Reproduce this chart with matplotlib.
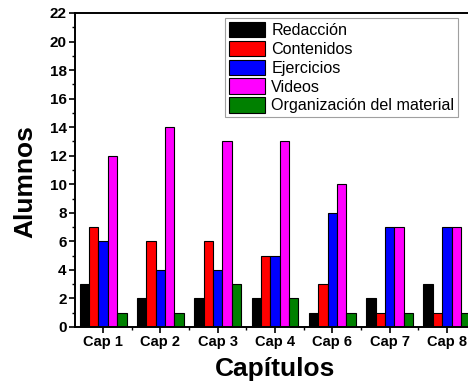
import numpy as np
import matplotlib.pyplot as plt
from matplotlib.ticker import MultipleLocator

capitulos = ["Cap 1", "Cap 2", "Cap 3", "Cap 4", "Cap 6", "Cap 7", "Cap 8"]
redaccion = [3, 2, 2, 2, 1, 2, 3]
contenidos = [7, 6, 6, 5, 3, 1, 1]
ejercicios = [6, 4, 4, 5, 8, 7, 7]
videos = [12, 14, 13, 13, 10, 7, 7]
organizacion = [1, 1, 3, 2, 1, 1, 1]

series = [
    ("Redacción", redaccion, "#000000"),
    ("Contenidos", contenidos, "#ff0000"),
    ("Ejercicios", ejercicios, "#0000ff"),
    ("Videos", videos, "#ff00ff"),
    ("Organización del material", organizacion, "#008000"),
]

plt.rcParams['font.family'] = ['Liberation Sans', 'DejaVu Sans']

fig = plt.figure(figsize=(4.68, 3.85), dpi=100)
ax = fig.add_axes([75 / 468, 58 / 385, 400 / 468, 314 / 385])

x = np.arange(len(capitulos))
w = 0.164
for k, (name, vals, col) in enumerate(series):
    ax.bar(x + (k - 2) * w, vals, w, color=col, edgecolor="black",
           linewidth=0.8, label=name)

ax.set_xlim(-0.49, 6.49)
ax.set_ylim(0, 22)
ax.yaxis.set_major_locator(MultipleLocator(2))
ax.yaxis.set_minor_locator(MultipleLocator(1))
ax.set_xticks(x)
ax.set_xticks(x[:-1] + 0.5, minor=True)
ax.set_xticklabels(capitulos, fontsize=10.5, fontweight="bold")
for lbl in ax.get_yticklabels():
    lbl.set_fontsize(11)
    lbl.set_fontweight("bold")
ax.tick_params(which="major", direction="out", length=4, width=1.2, pad=2)
ax.tick_params(which="minor", direction="out", length=2.5, width=1)
ax.spines["right"].set_visible(False)
for s in ["left", "bottom", "top"]:
    ax.spines[s].set_linewidth(1.4)

ax.set_xlabel("Capítulos", fontsize=19, fontweight="bold")
ax.set_ylabel("Alumnos", fontsize=19, fontweight="bold")
ax.xaxis.set_label_coords(0.5, -0.097)
ax.yaxis.set_label_coords(-0.093, 0.462)

leg = ax.legend(loc="upper left", bbox_to_anchor=(225 / 468, 1 - 18 / 385),
                bbox_transform=fig.transFigure, fontsize=11.6, fancybox=False,
                handlelength=2.25, handleheight=1.1, labelspacing=0.16,
                handletextpad=0.37, borderpad=0.25, borderaxespad=0)
leg.get_frame().set_edgecolor("#888888")
leg.get_frame().set_linewidth(0.8)

plt.savefig("out.png", dpi=100)
